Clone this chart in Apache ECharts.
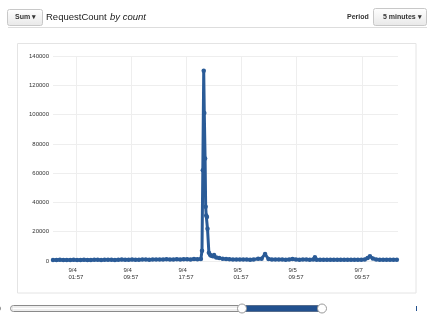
<!DOCTYPE html>
<html><head><meta charset="utf-8">
<script src="https://cdn.jsdelivr.net/npm/echarts@6/dist/echarts.min.js"></script>
<style>html,body{margin:0;padding:0;background:#fff}#c{width:432px;height:323px}</style>
</head><body><div id="c"></div>
<script>
// minutes since 9/4 01:57
const times = [
  -200,-170,-140,-110,-80,-50,-20,10,40,70,100,130,160,190,220,250,280,310,340,370,400,430,460,490,520,550,580,610,640,670,700,730,760,790,820,850,880,910,940,970,1000,1030,1060,
  1090,1100,1107,1115,1120,1127,1132,1137,1143,1148,1160,1170,1180,1195,1205,1225,1250,1280,
  1310,1340,1370,1400,1430,1460,1490,1520,1550,1590,1620,1650,1680,1710,1740,1770,1800,1830,1860,1890,1920,1950,1980,2010,2040,2070,2085,2100,2130,2160,2190,2220,2250,2280,2310,2340,2370,2400,2430,2460,2490,2520,2545,2565,2590,2620,2650,2680,2710,2740,2770,2800
];
const requestCounts = [
  700,650,800,720,600,750,820,680,700,900,760,640,800,850,700,780,900,820,760,880,950,800,860,1000,900,850,980,1050,900,1000,1100,950,1050,1150,1000,1100,1200,1050,1150,1250,1100,1300,1200,
  1300,7000,62000,130000,101000,70000,37000,31000,30000,22000,5700,4300,3600,3200,4100,2400,2000,1600,
  1400,1200,1100,1000,1050,950,1000,900,1100,1500,1600,4800,1300,1100,1000,950,1000,900,1100,1400,1000,900,950,1000,900,950,2600,900,850,900,800,850,900,800,850,900,800,850,900,850,800,1100,2000,3300,1700,1000,900,850,800,900,850,800
];
const tickTimes = [0, 480, 960, 1440, 1920, 2496];
const tickDates = ['9/4', '9/4', '9/4', '9/5', '9/5', '9/7'];
const tickClock = ['01:57', '09:57', '17:57', '01:57', '09:57', '09:57'];
const yTicks = [0, 20000, 40000, 60000, 80000, 100000, 120000, 140000];

const data = times.map((t, i) => [t, requestCounts[i]]);
const font = '"Liberation Sans", Arial, sans-serif';

const chart = echarts.init(document.getElementById('c'), null, {renderer: 'canvas'});
chart.setOption({
  animation: false,
  textStyle: {fontFamily: font},
  grid: {left: 53, right: 34, top: 56, bottom: 62, containLabel: false},
  xAxis: {
    type: 'value', min: -200, max: 2810,
    axisLine: {show: false}, axisTick: {show: false, customValues: tickTimes},
    splitLine: {show: true, lineStyle: {color: '#eeeeee', width: 1}},
    axisLabel: {
      customValues: tickTimes, margin: 6, fontSize: 6, color: '#333',
      formatter: function (v) { const i = tickTimes.indexOf(v); return i < 0 ? '' : '{a|' + tickDates[i] + '}\n{a|' + tickClock[i] + '}'; },
      rich: {a: {width: 15, align: 'left', fontSize: 6, lineHeight: 7, color: '#333', fontFamily: font}}
    }
  },
  yAxis: {
    type: 'value', min: yTicks[0], max: yTicks[yTicks.length - 1], interval: 20000,
    axisLine: {show: false}, axisTick: {show: false},
    splitLine: {lineStyle: {color: '#eeeeee', width: 1}},
    axisLabel: {fontSize: 6, color: '#333', margin: 4, fontFamily: font, formatter: v => String(v)}
  },
  series: [{
    type: 'line', data: data,
    color: '#2a5b97',
    lineStyle: {width: 3, color: '#2a5b97'},
    symbol: 'circle', symbolSize: 4.5, showAllSymbol: true,
    itemStyle: {color: '#2a5b97'}
  }],
  graphic: [
    {type: 'rect', shape: {x: 17.5, y: 43.5, width: 398.5, height: 249.5}, style: {fill: 'none', stroke: '#e4e4e4', lineWidth: 1}, z: -1},
    {type: 'line', shape: {x1: 8, y1: 27.5, x2: 427, y2: 27.5}, style: {stroke: '#dddddd', lineWidth: 1}},
    {type: 'rect', shape: {x: 7.5, y: 9.5, width: 35, height: 16, r: 2},
      style: {fill: new echarts.graphic.LinearGradient(0, 0, 0, 1, [{offset: 0, color: '#ffffff'}, {offset: 1, color: '#e8e8e8'}]), stroke: '#c8c8c8', lineWidth: 1}},
    {type: 'text', x: 15, y: 17.5, style: {text: 'Sum ▾', font: 'bold 7px ' + font, fill: '#333', textVerticalAlign: 'middle'}},
    {type: 'text', x: 46, y: 17, style: {text: '{n|RequestCount} {i|by count}', textVerticalAlign: 'middle',
      rich: {n: {fontSize: 9.5, fontFamily: font, fill: '#222'}, i: {fontSize: 9.5, fontStyle: 'italic', fontFamily: font, fill: '#222'}}}},
    {type: 'text', x: 347, y: 17, style: {text: 'Period', font: 'bold 7px ' + font, fill: '#333', textVerticalAlign: 'middle'}},
    {type: 'rect', shape: {x: 373.5, y: 8.5, width: 53, height: 17, r: 2},
      style: {fill: new echarts.graphic.LinearGradient(0, 0, 0, 1, [{offset: 0, color: '#ffffff'}, {offset: 1, color: '#e8e8e8'}]), stroke: '#c8c8c8', lineWidth: 1}},
    {type: 'text', x: 383, y: 17, style: {text: '5 minutes ▾', font: 'bold 7px ' + font, fill: '#333', textVerticalAlign: 'middle'}},
    {type: 'text', x: -3, y: 309, style: {text: '0', font: '7px ' + font, fill: '#555', textVerticalAlign: 'middle'}},
    {type: 'rect', shape: {x: 10.5, y: 305.5, width: 312, height: 6, r: 3}, style: {fill: '#ffffff', stroke: '#8a8a8a', lineWidth: 1}},
    {type: 'rect', shape: {x: 12, y: 307, width: 230, height: 3, r: 1.5}, style: {fill: 'none', stroke: '#dddddd', lineWidth: 1}},
    {type: 'rect', shape: {x: 242, y: 305.5, width: 80, height: 6}, style: {fill: '#22518f'}},
    {type: 'circle', shape: {cx: 242, cy: 308.5, r: 4.5}, style: {fill: '#ffffff', stroke: '#999', lineWidth: 1}},
    {type: 'circle', shape: {cx: 322, cy: 308.5, r: 4.5}, style: {fill: '#ffffff', stroke: '#999', lineWidth: 1}},
    {type: 'line', shape: {x1: 416.5, y1: 306, x2: 416.5, y2: 311}, style: {stroke: '#22518f', lineWidth: 1}}
  ]
});
</script></body></html>
